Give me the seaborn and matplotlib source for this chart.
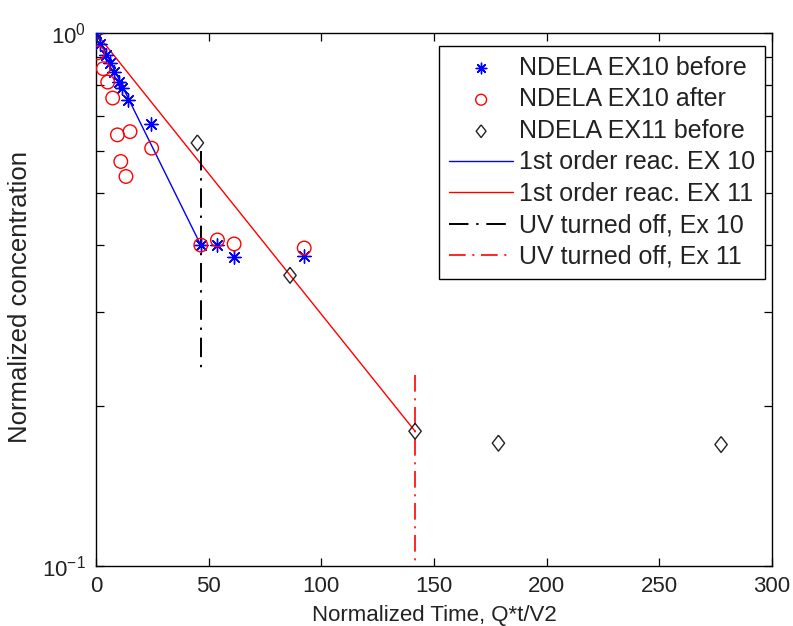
import numpy as np
import pandas as pd
import matplotlib
matplotlib.use("Agg")
import matplotlib.pyplot as plt
import matplotlib.ticker as mticker
import seaborn as sns

# ---- data ----
ex10_before_t = [0, 1.8, 4.3, 6.3, 8.0, 10.0, 11.5, 14.3, 24.4, 46.5, 53.9, 61.3, 92.4]
ex10_before_c = [1.0, 0.955, 0.91, 0.88, 0.845, 0.81, 0.79, 0.75, 0.675, 0.40, 0.40, 0.38, 0.382]

ex10_after_t = [0.7, 3.2, 5.2, 7.4, 9.5, 15.1, 11.0, 13.3, 24.7, 46.5, 53.9, 61.3, 92.4]
ex10_after_c = [0.918, 0.857, 0.809, 0.755, 0.644, 0.653, 0.574, 0.538, 0.608, 0.400, 0.409, 0.402, 0.395]

ex11_before_t = [0, 45.0, 86.1, 141.6, 178.6, 277.4]
ex11_before_c = [1.0, 0.622, 0.351, 0.179, 0.170, 0.169]

fit10_t = [0, 46.5]
fit10_c = [1.0, 0.40]
fit11_t = [0, 141.6]
fit11_c = [1.0, 0.179]

uv10_t = [46.5, 46.5]
uv10_c = [0.60, 0.23]
uv11_t = [141.6, 141.6]
uv11_c = [0.228, 0.1]

labels = ["NDELA EX10 before", "NDELA EX10 after", "NDELA EX11 before",
          "1st order reac. EX 10", "1st order reac. EX 11",
          "UV turned off, Ex 10", "UV turned off, Ex 11"]

x_ticks = [0, 50, 100, 150, 200, 250, 300]

sns.set_style("ticks")
plt.rcParams["font.family"] = ["Liberation Sans", "DejaVu Sans"]
plt.rcParams["axes.unicode_minus"] = False
plt.rcParams["mathtext.default"] = "regular"

fig = plt.figure(figsize=(7.93, 6.26), dpi=100)
ax = fig.add_axes([96 / 793, 1 - 566 / 626, (772 - 96) / 793, (566 - 33) / 626])

FS = 16
diamond = [(0, 1), (0.78, 0), (0, -1), (-0.78, 0), (0, 1)]

sns.scatterplot(x=ex10_before_t, y=ex10_before_c, ax=ax, marker=(8, 2, 0),
                color="blue", s=90, linewidth=1.0, label=labels[0], zorder=3)
sns.scatterplot(x=ex10_after_t, y=ex10_after_c, ax=ax, marker="o",
                facecolors="none", edgecolor="red", s=95, linewidth=1.0,
                label=labels[1], zorder=3)
sns.scatterplot(x=ex11_before_t, y=ex11_before_c, ax=ax, marker=diamond,
                facecolors="none", edgecolor="#222222", s=130, linewidth=1.0,
                label=labels[2], zorder=3)

sns.lineplot(x=fit10_t, y=fit10_c, ax=ax, color="blue", linewidth=1.0,
             estimator=None, sort=False, label=labels[3])
sns.lineplot(x=fit11_t, y=fit11_c, ax=ax, color="red", linewidth=1.0,
             estimator=None, sort=False, label=labels[4])
dd = (0, (10, 4, 1.2, 4))
sns.lineplot(x=uv10_t, y=uv10_c, ax=ax, color="black", linewidth=1.4,
             linestyle=dd, estimator=None, sort=False, label=labels[5])
sns.lineplot(x=uv11_t, y=uv11_c, ax=ax, color="red", linewidth=1.2,
             linestyle=dd, estimator=None, sort=False, label=labels[6])

ax.set_yscale("log")
ax.set_xlim(0, 300)
ax.set_ylim(0.1, 1.0)
ax.set_xticks(x_ticks)
ax.set_xticklabels([str(v) for v in x_ticks])
ax.yaxis.set_major_locator(mticker.FixedLocator([0.1, 1.0]))
ax.yaxis.set_major_formatter(mticker.LogFormatterSciNotation())
ax.yaxis.set_minor_locator(mticker.LogLocator(base=10, subs=np.arange(2, 10)))
ax.yaxis.set_minor_formatter(mticker.NullFormatter())

for s in ax.spines.values():
    s.set_visible(True)
    s.set_color("black")
    s.set_linewidth(1.0)

ax.tick_params(axis="both", which="both", direction="in", top=True, right=True,
               colors="black", labelcolor="#222222", labelsize=FS)
ax.tick_params(which="major", length=6, width=0.9, pad=7)
ax.tick_params(which="minor", length=6, width=0.9)

ax.set_xlabel("Normalized Time, Q*t/V2", fontsize=FS, color="#222222", labelpad=6)
ax.set_ylabel("Normalized concentration", fontsize=18.5, color="#222222")
ax.yaxis.set_label_coords(-0.094, 0.505)

handles, labs = ax.get_legend_handles_labels()
order = [labs.index(l) for l in labels]
leg = ax.legend([handles[i] for i in order], [labs[i] for i in order],
                loc="upper right", bbox_to_anchor=(0.99, 0.976), borderaxespad=0,
                fontsize=18, frameon=True, fancybox=False, edgecolor="black",
                framealpha=1, handlelength=2.56, handletextpad=0.24,
                labelspacing=0.3, borderpad=0.4, markerscale=0.8)
leg.get_frame().set_linewidth(1.0)
for t in leg.get_texts():
    t.set_color("#222222")

fig.savefig("out.png", dpi=100)
